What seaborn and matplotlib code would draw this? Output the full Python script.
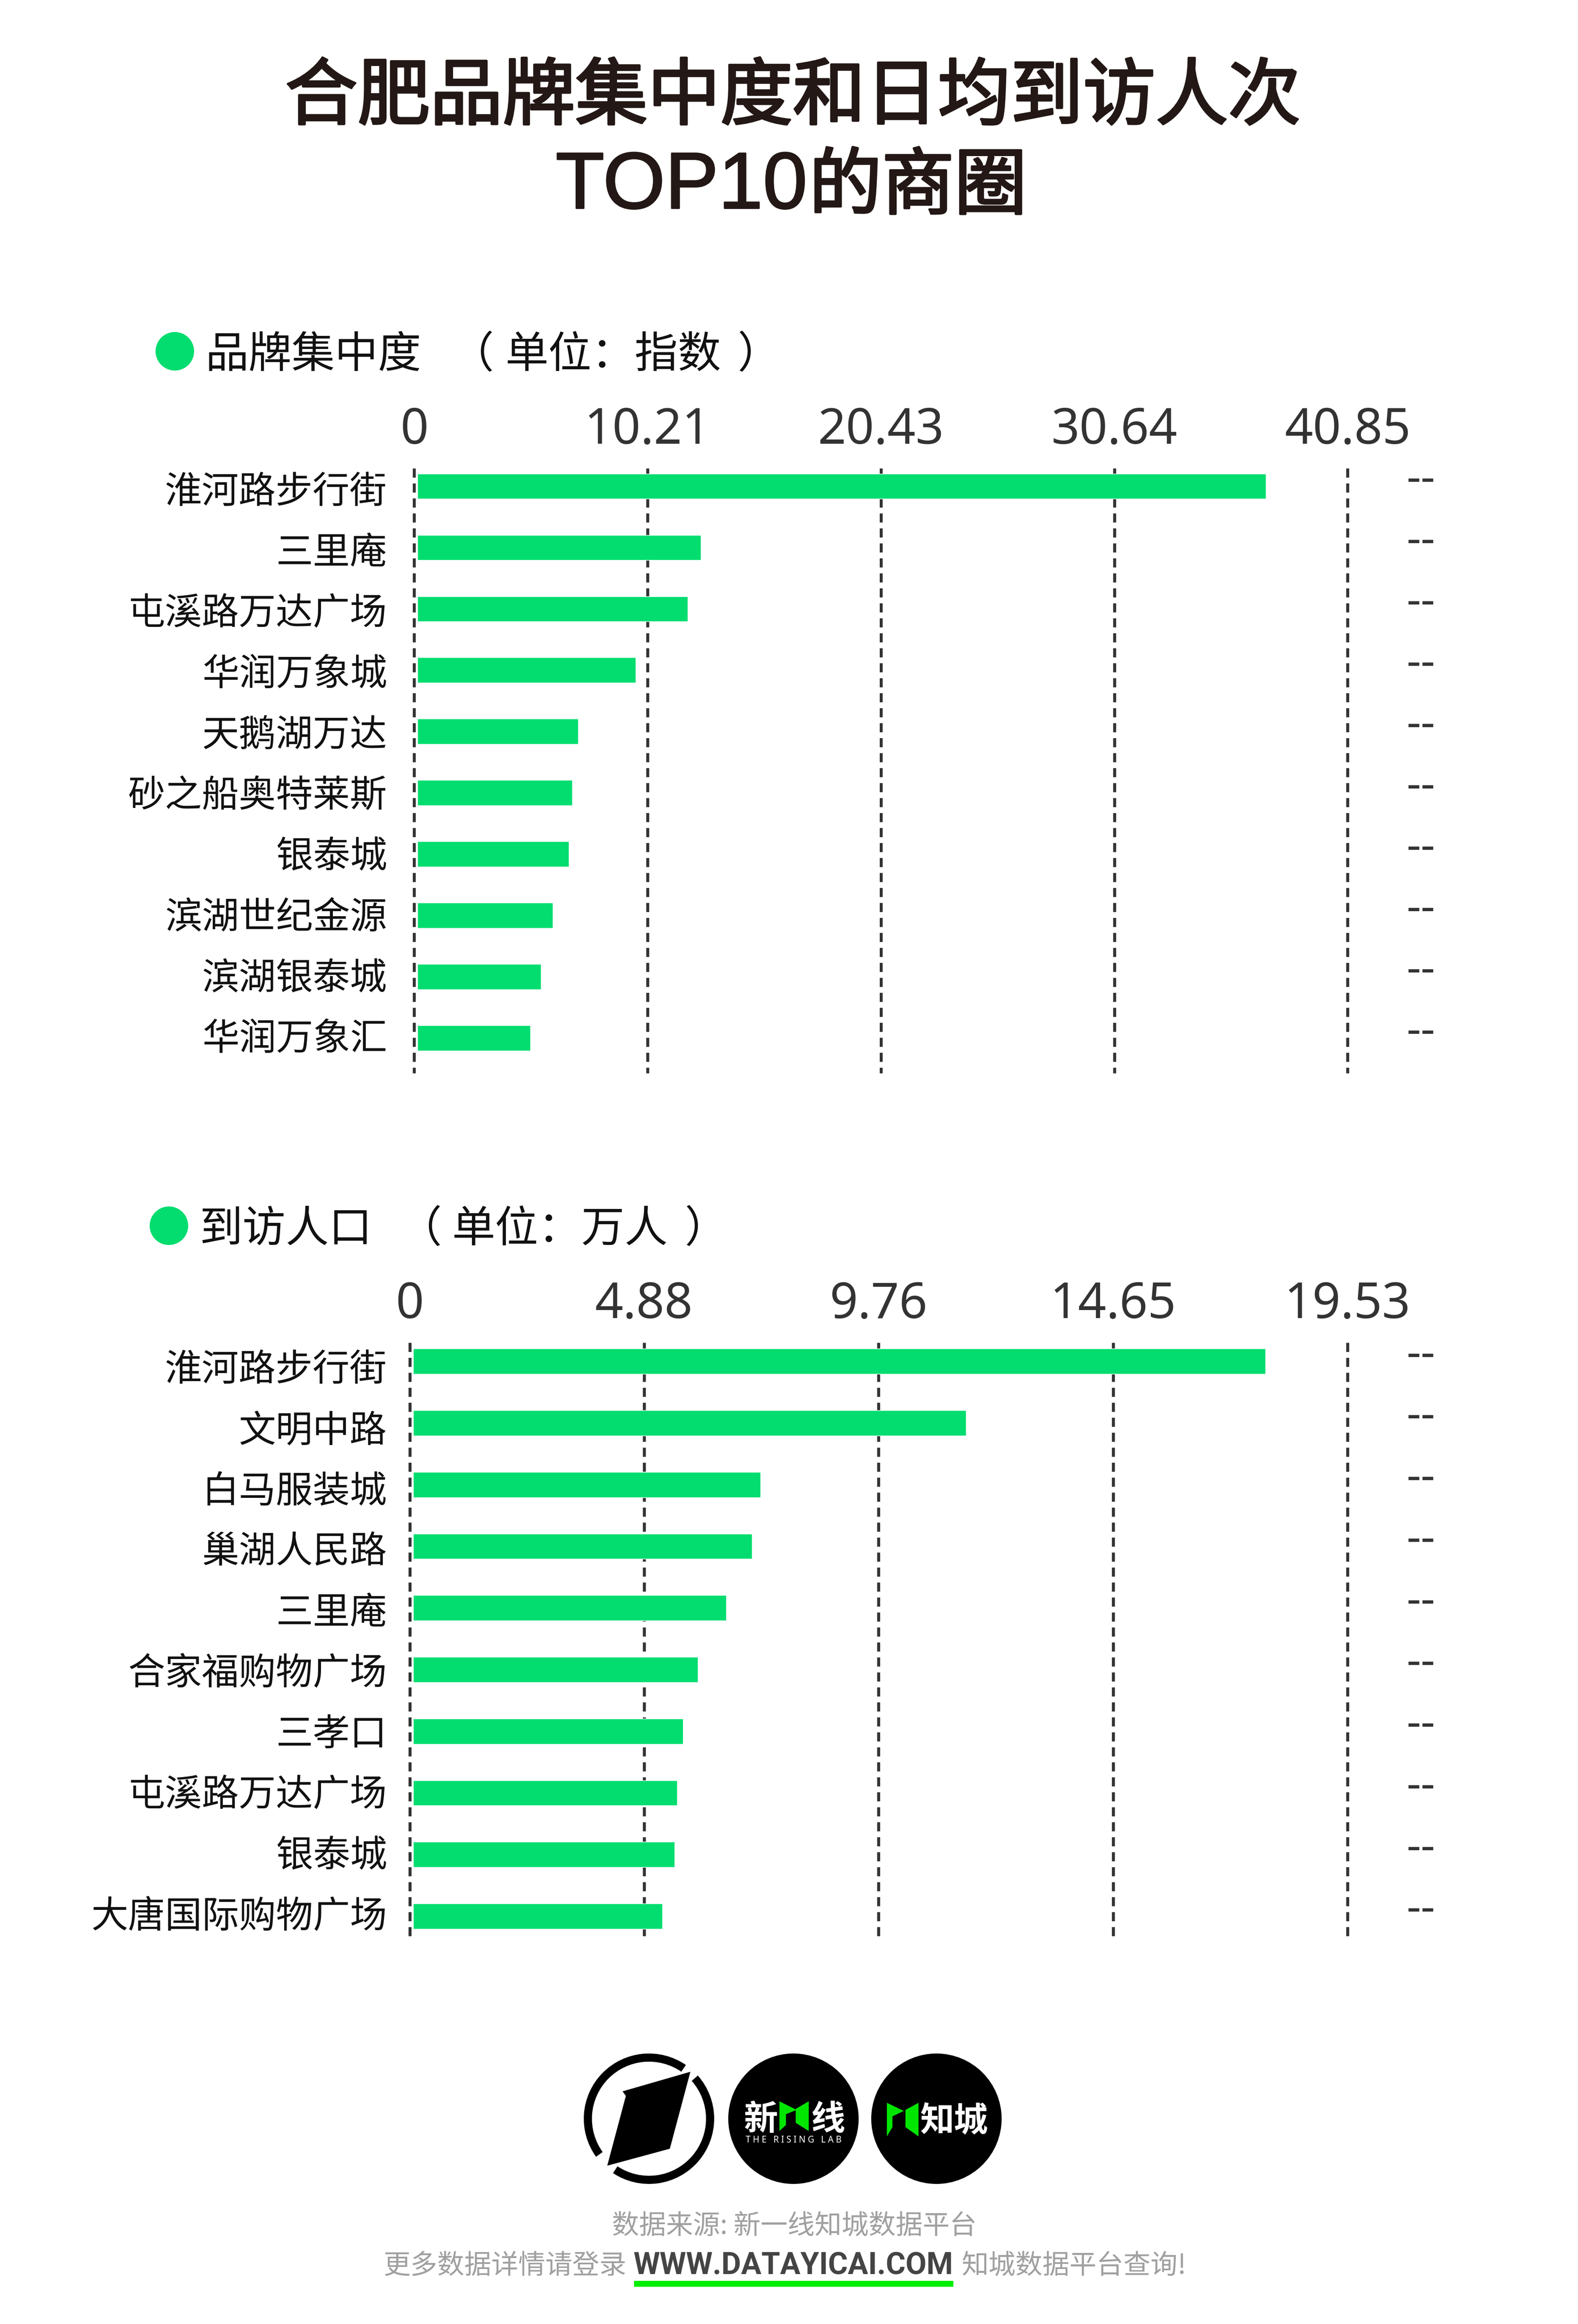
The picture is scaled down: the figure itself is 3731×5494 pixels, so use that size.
import matplotlib
matplotlib.use('Agg')
import matplotlib.pyplot as plt
from matplotlib.patches import Circle, Polygon, Wedge, Rectangle
from matplotlib.transforms import ScaledTranslation
import matplotlib.patheffects as pe
import pandas as pd
import seaborn as sns

# ======== DATA ========
brand_names = ['淮河路步行街', '三里庵', '屯溪路万达广场', '华润万象城', '天鹅湖万达',
               '砂之船奥特莱斯', '银泰城', '滨湖世纪金源', '滨湖银泰城', '华润万象汇']
brand_values = [37.27, 12.55, 11.97, 9.70, 7.17, 6.91, 6.78, 6.07, 5.55, 5.09]
brand_ticks = [0, 10.21, 20.43, 30.64, 40.85]
brand_tick_labels = ['0', '10.21', '20.43', '30.64', '40.85']

visit_names = ['淮河路步行街', '文明中路', '白马服装城', '巢湖人民路', '三里庵',
               '合家福购物广场', '三孝口', '屯溪路万达广场', '银泰城', '大唐国际购物广场']
visit_values = [17.82, 11.58, 7.30, 7.13, 6.59, 6.00, 5.69, 5.57, 5.52, 5.26]
visit_ticks = [0, 4.88, 9.76, 14.65, 19.53]
visit_tick_labels = ['0', '4.88', '9.76', '14.65', '19.53']

# ======== SETUP ========
W, H = 3731, 5494
BASE_W, BASE_H = 1065, 1568  # layout below is in these units
GREEN = '#03DD6F'
DARK = '#333333'
CJK = ['Noto Sans CJK SC', 'DejaVu Sans']

sns.set_theme(style='white')
plt.rcParams['font.family'] = CJK

fig = plt.figure(figsize=(W / 100, H / 100), dpi=100, facecolor='white')


def draw_panel(names, values, ticks, tick_labels, x0, top, bottom, pad, ylim, label_shift):
    left = x0 / BASE_W
    width = (909.5 - x0) / BASE_W
    ax = fig.add_axes([left, 1 - bottom / BASE_H, width, (bottom - top) / BASE_H])
    ax.patch.set_alpha(0)
    df = pd.DataFrame({'name': names, 'value': values})
    sns.barplot(data=df, x='value', y='name', color=GREEN, saturation=1, width=0.41, ax=ax, zorder=2)
    ax.set_xlim(0, ticks[-1])
    ax.set_ylim(*ylim)
    ax.set_xlabel('')
    ax.set_ylabel('')
    sns.despine(ax=ax, left=True, bottom=True)

    ax.xaxis.tick_top()
    ax.set_xticks(ticks)
    ax.set_xticklabels(tick_labels, fontsize=84, color=DARK, family=['Noto Sans', 'DejaVu Sans'])
    ax.tick_params(axis='x', length=0, pad=22)
    ax.tick_params(axis='y', length=0, pad=pad, labelsize=63, labelcolor='#111111')
    # the labels run on a slightly tighter pitch than the bars
    for i, lbl in enumerate(ax.get_yticklabels()):
        shift = label_shift[0] + (label_shift[1] - label_shift[0]) * i / 9
        nudge = ScaledTranslation(0, -shift * W / BASE_W / 100, fig.dpi_scale_trans)
        lbl.set_transform(lbl.get_transform() + nudge)

    dash = (0, (3.1, 2.0))
    ax.set_axisbelow(True)
    ax.grid(axis='x', color=DARK, linewidth=5, linestyle=dash)
    for line in ax.get_xgridlines():
        line.set_clip_on(False)
        line.set_ydata([1, 0])
    # small white gap between zero line and the bars
    ax.axvline(0, color='white', linewidth=12.4, zorder=3, clip_on=False)
    ax.axvline(0, ymin=1, ymax=0, color=DARK, linewidth=5, linestyle=dash, zorder=4, clip_on=False)

    # empty right column
    trans = ax.get_yaxis_transform()
    for i in range(len(names)):
        ax.text((959 - x0) / (909.5 - x0), i - 0.1, '--', transform=trans, ha='center', va='center',
                fontsize=76, fontweight='bold', color=DARK, family=['Noto Sans', 'DejaVu Sans'])
    return ax


draw_panel(brand_names, brand_values, brand_ticks, brand_tick_labels, 279.5, 316, 724, 46,
           (9.57, -0.29), (1.2, -1.9))
draw_panel(visit_names, visit_values, visit_ticks, visit_tick_labels, 276.5, 906, 1307, 38.5,
           (9.34, -0.30), (3.1, -2.4))

# ======== TITLE, HEADERS, FOOTER ========
bg = fig.add_axes([0, 0, 1, 1], zorder=-1)
bg.set_xlim(0, BASE_W)
bg.set_ylim(BASE_H, 0)
bg.axis('off')

heavy = [pe.withStroke(linewidth=3.8, foreground='#231815')]
bg.text(535, 66, '合肥品牌集中度和日均到访人次', ha='center', va='center', fontsize=123.5,
        color='#231815', path_effects=heavy)
bg.text(375, 140.5, 'TOP10', ha='left', va='baseline', fontsize=136, color='#231815',
        family=['Liberation Sans', 'DejaVu Sans'], path_effects=[pe.withStroke(linewidth=2.5, foreground='#231815')])
bg.text(693, 140.5, '的商圈', ha='right', va='baseline', fontsize=123.5, color='#231815', path_effects=heavy)

HEAD = dict(va='baseline', fontsize=73.5, color='#111111')
bg.add_patch(Circle((118, 237), 13, color=GREEN, lw=0))
bg.text(138.5, 248, '品牌集中度', **HEAD)
bg.text(304, 248, '（', **HEAD)
bg.text(341, 248, '单位：指数', **HEAD)
bg.text(497.5, 248, '）', **HEAD)

bg.add_patch(Circle((114, 827), 13, color=GREEN, lw=0))
bg.text(134.5, 838, '到访人口', **HEAD)
bg.text(269, 838, '（', **HEAD)
bg.text(305, 838, '单位：万人', **HEAD)
bg.text(462, 838, '）', **HEAD)

# logos
R = 44
LOGO_Y = 1429.5
ICON = '#00E600'


def pts(cx, coords):
    return [(cx + a * R, LOGO_Y + b * R) for a, b in coords]


lx = 438
bg.add_patch(Wedge((lx, LOGO_Y), R, -215.7, -55.5, width=0.125 * R, color='black', lw=0))
bg.add_patch(Wedge((lx, LOGO_Y), R, -41.5, 123.5, width=0.125 * R, color='black', lw=0))
bg.add_patch(Polygon(pts(lx, [(0.635, -0.72), (-0.405, -0.42), (-0.355, -0.35), (-0.64, 0.72), (0.32, 0.46)]),
                     color='black', lw=0))

lx = 535.5
bg.add_patch(Circle((lx, LOGO_Y), R, color='black', lw=0))
bg.add_patch(Polygon(pts(lx, [(-0.215, -0.267), (0.05, -0.135), (-0.115, -0.07), (-0.115, 0.096), (-0.215, 0.188)]),
                     color=ICON, lw=0))
bg.add_patch(Polygon(pts(lx, [(0.235, -0.267), (0.235, 0.188), (0.035, 0.063), (0.035, -0.15)]), color=ICON, lw=0))
bg.text(lx - 0.5 * R, LOGO_Y + 0.02 * R, '新', ha='center', va='center', fontsize=58, fontweight='bold', color='white')
bg.text(lx + 0.525 * R, LOGO_Y + 0.02 * R, '线', ha='center', va='center', fontsize=58, fontweight='bold', color='white')
bg.text(lx, LOGO_Y + 0.33 * R, 'T H E   R I S I N G   L A B', ha='center', va='center', fontsize=15,
        fontweight='bold', color='white', family=['Noto Sans', 'DejaVu Sans'])

lx = 632
bg.add_patch(Circle((lx, LOGO_Y), R, color='black', lw=0))
bg.add_patch(Polygon(pts(lx, [(-0.76, -0.244), (-0.5, -0.119), (-0.675, -0.036), (-0.675, 0.129), (-0.76, 0.271)]),
                     color=ICON, lw=0))
bg.add_patch(Polygon(pts(lx, [(-0.275, -0.244), (-0.275, 0.271), (-0.475, 0.129), (-0.475, -0.135)]), color=ICON, lw=0))
bg.text(lx + 0.01 * R, LOGO_Y + 0.04 * R, '知', ha='center', va='center', fontsize=58, fontweight='bold', color='white')
bg.text(lx + 0.525 * R, LOGO_Y + 0.04 * R, '城', ha='center', va='center', fontsize=58, fontweight='bold', color='white')

# footer
bg.text(536, 1502, '数据来源: 新一线知城数据平台', ha='center', va='center', fontsize=46, color='#A0A0A0')
bg.text(423, 1529, '更多数据详情请登录', ha='right', va='center', fontsize=46, color='#A0A0A0')
bg.text(535.5, 1529, 'WWW.DATAYICAI.COM', ha='center', va='center', fontsize=51.5, fontweight='bold',
        color='#444444', family=['Roboto', 'DejaVu Sans'])
bg.text(649, 1529, '知城数据平台查询!', ha='left', va='center', fontsize=46, color='#A0A0A0')
bg.add_patch(Rectangle((428, 1539), 215.5, 4, color='#00EE00', lw=0))

fig.savefig('out.png', dpi=100, facecolor='white')
